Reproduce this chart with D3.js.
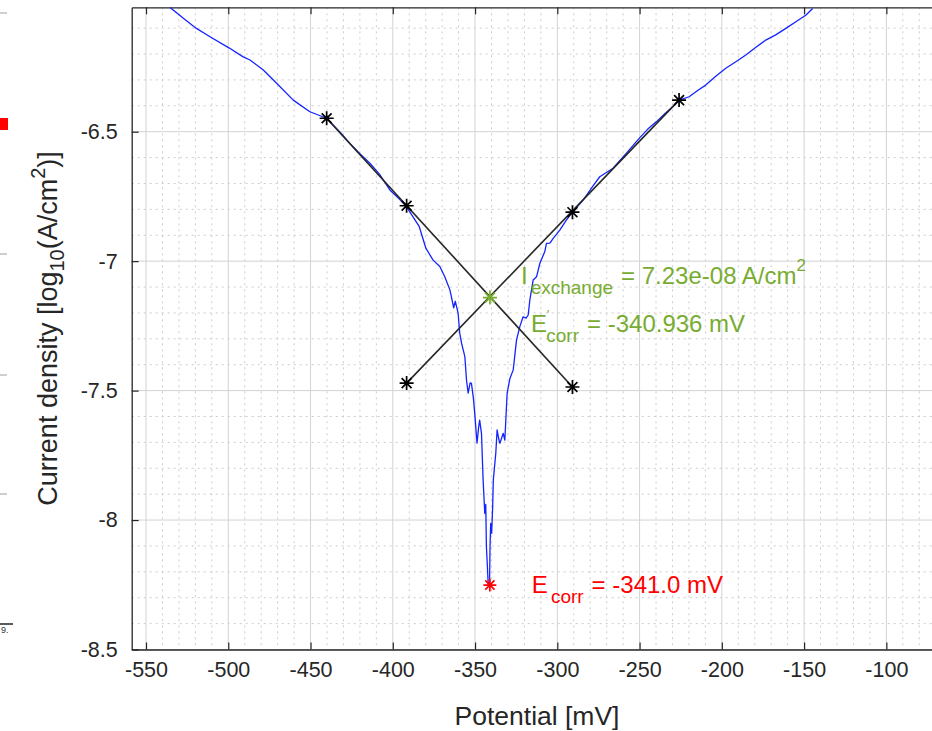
<!DOCTYPE html>
<html>
<head>
<meta charset="utf-8">
<script src="https://d3js.org/d3.v7.min.js"></script>
<style>
  body { margin: 0; background: #fff; overflow: hidden; }
  svg text { font-family: "Liberation Sans", Arial, Helvetica, sans-serif; }
</style>
</head>
<body>
<script>
// polarisation sweep
const potential = [
  -535.4, -527.3, -519.6, -511.1, -499.6, -491.2, -486.8, -478.7, -470.6, -460.5,
  -450.4, -440.2, -431.5, -426.1, -420.0, -413.9, -408.0, -401.8, -396.0, -391.6,
  -383.9, -379.9, -375.5, -371.4, -368.4, -365.3, -364.3, -363.0, -362.0, -360.3,
  -359.3, -358.2, -357.2, -356.2, -355.2, -354.2, -353.0, -352.2, -351.0, -350.2,
  -348.8, -347.8, -347.2, -346.1, -345.1, -344.1, -343.5, -343.1, -342.5, -342.0,
  -341.2, -340.9, -340.5, -339.9, -339.3, -338.9, -337.4, -336.6, -335.5, -334.9,
  -332.9, -331.9, -330.5, -328.8, -326.8, -324.8, -322.8, -320.8, -319.0, -317.7,
  -316.7, -314.7, -312.6, -310.6, -307.6, -306.6, -304.5, -302.5, -298.5, -294.4,
  -291.4, -284.3, -278.6, -274.2, -266.1, -258.0, -250.1, -245.0, -239.7, -234.5,
  -229.7, -226.0, -219.9, -214.5, -209.8, -203.5, -197.6, -191.5, -185.4, -179.5,
  -173.3, -167.0, -161.1, -155.0, -149.0, -144.8
];
const logCurrent = [
  -6.020, -6.062, -6.100, -6.133, -6.176, -6.210, -6.223, -6.262, -6.313, -6.378,
  -6.423, -6.448, -6.506, -6.545, -6.585, -6.622, -6.665, -6.725, -6.760, -6.790,
  -6.867, -6.950, -6.996, -7.021, -7.060, -7.111, -7.140, -7.180, -7.155, -7.201,
  -7.279, -7.317, -7.343, -7.369, -7.459, -7.510, -7.470, -7.472, -7.530, -7.588,
  -7.703, -7.640, -7.614, -7.665, -7.845, -7.974, -7.940, -8.103, -8.180, -8.251,
  -8.240, -8.103, -8.013, -8.051, -7.950, -7.845, -7.742, -7.652, -7.690, -7.704,
  -7.665, -7.691, -7.510, -7.453, -7.420, -7.305, -7.253, -7.215, -7.220, -7.208,
  -7.150, -7.073, -7.060, -7.008, -6.963, -6.931, -6.930, -6.912, -6.880, -6.841,
  -6.815, -6.764, -6.712, -6.674, -6.641, -6.583, -6.525, -6.490, -6.461, -6.430,
  -6.403, -6.378, -6.365, -6.340, -6.320, -6.285, -6.255, -6.230, -6.204, -6.175,
  -6.146, -6.125, -6.101, -6.075, -6.050, -6.024
];

// Tafel fits (start, fit limit, end)
const cathodicX = [-440.2, -391.6, -290.8];
const cathodicY = [-6.448, -6.786, -7.486];
const anodicX = [-391.6, -290.8, -226.0];
const anodicY = [-7.471, -6.811, -6.378];

const eCorr = -341.0;
const eCorrLog = -8.251;
const eCorrFit = -340.936;
const iExchange = 7.23e-8;

const xTicks = [-550, -500, -450, -400, -350, -300, -250, -200, -150, -100];
const yTicks = [-8.5, -8, -7.5, -7, -6.5];

((g) => {

  const xMinor = d3.range(-550, -60, 10);
  const yMinor = d3.range(-8.5, -6.0, 0.1);

  const W = 932, H = 731;
  const pl = 131.7, pr = 942.3, pt = 7.3, pb = 649.5;

  const svg = d3.select("body").append("svg")
    .attr("width", W).attr("height", H);

  const x = d3.scaleLinear().domain([-558.7, -66]).range([pl, pr]);
  const y = d3.scaleLinear().domain([-8.5, -6.0195]).range([pb, pt]);

  svg.append("clipPath").attr("id", "plotclip")
    .append("rect").attr("x", pl).attr("y", pt)
    .attr("width", pr - pl).attr("height", pb - pt);

  //grid
  const grid = svg.append("g");
  grid.selectAll(".mx").data(xMinor.filter(v => xTicks.indexOf(v) < 0)).join("line")
    .attr("class", "mx")
    .attr("x1", d => x(d)).attr("x2", d => x(d)).attr("y1", pt).attr("y2", pb)
    .attr("stroke", "#cccccc").attr("stroke-dasharray", "2,4").attr("stroke-width", 1);
  grid.selectAll(".my").data(yMinor.filter(v => Math.abs(v * 2 - Math.round(v * 2)) > 0.01)).join("line")
    .attr("class", "my")
    .attr("x1", pl).attr("x2", pr).attr("y1", d => y(d)).attr("y2", d => y(d))
    .attr("stroke", "#cccccc").attr("stroke-dasharray", "2,4").attr("stroke-width", 1);
  grid.selectAll(".gx").data(xTicks).join("line")
    .attr("class", "gx")
    .attr("x1", d => x(d)).attr("x2", d => x(d)).attr("y1", pt).attr("y2", pb)
    .attr("stroke", "#d3d3d3").attr("stroke-width", 1);
  grid.selectAll(".gy").data(yTicks).join("line")
    .attr("class", "gy")
    .attr("x1", pl).attr("x2", pr).attr("y1", d => y(d)).attr("y2", d => y(d))
    .attr("stroke", "#d3d3d3").attr("stroke-width", 1);

  //axes
  const xAxis = d3.axisBottom(x).tickValues(xTicks).tickSizeInner(-7).tickSizeOuter(0).tickPadding(12);
  const yAxis = d3.axisLeft(y).tickValues(yTicks).tickSizeInner(-7).tickSizeOuter(0).tickPadding(14)
    .tickFormat(d3.format("~g"));

  const gx = svg.append("g").attr("transform", "translate(0," + pb + ")").call(xAxis);
  const gy = svg.append("g").attr("transform", "translate(" + pl + ",0)").call(yAxis);
  const gxTop = svg.append("g").attr("transform", "translate(0," + pt + ")")
    .call(d3.axisTop(x).tickValues(xTicks).tickSizeInner(-7).tickSizeOuter(0).tickFormat(""));

  [gx, gy, gxTop].forEach(a => {
    a.select(".domain").attr("stroke", "#262626").attr("stroke-width", 1.3);
    a.selectAll(".tick line").attr("stroke", "#262626").attr("stroke-width", 1.2);
    a.selectAll(".tick text").attr("fill", "#262626").style("font-size", "21.5px")
      .style("font-family", "'Liberation Sans', Arial, sans-serif");
  });
  // plain hyphen minus like the original
  gx.selectAll(".tick text").text(d => String(d));
  gy.selectAll(".tick text").text(d => String(d));

  svg.append("text")
    .attr("x", 537).attr("y", 725)
    .attr("text-anchor", "middle").attr("fill", "#262626")
    .style("font-size", "26.5px")
    .text("Potential [mV]");

  const yl = svg.append("text")
    .attr("transform", "translate(57," + ((pt + pb) / 2) + ") rotate(-90)")
    .attr("text-anchor", "middle").attr("fill", "#262626")
    .style("font-size", "27px");
  yl.append("tspan").text("Current density [log");
  yl.append("tspan").attr("dy", 7).style("font-size", "20px").text("10");
  yl.append("tspan").attr("dy", -7).text("(A/cm");
  yl.append("tspan").attr("dy", -12).style("font-size", "20px").text("2");
  yl.append("tspan").attr("dy", 12).text(")]");

  //data
  const plot = svg.append("g").attr("clip-path", "url(#plotclip)");

  plot.append("path")
    .datum(d3.range(potential.length))
    .attr("fill", "none")
    .attr("stroke", "#1424ff")
    .attr("stroke-width", 1.3)
    .attr("stroke-linejoin", "round")
    .attr("d", d3.line().x(i => x(potential[i])).y(i => y(logCurrent[i])));

  const tafelLine = d3.line().x(d => x(d[0])).y(d => y(d[1]));
  [[cathodicX, cathodicY], [anodicX, anodicY]].forEach(f => {
    const pts = f[0].map((v, i) => [v, f[1][i]]);
    plot.append("path")
      .datum([pts[0], pts[pts.length - 1]])
      .attr("fill", "none").attr("stroke", "#262626").attr("stroke-width", 1.6)
      .attr("d", tafelLine);
  });

  // matlab style '*' marker
  const star = (px, py, r) => {
    let s = "";
    for (let k = 0; k < 4; k++) {
      const a = k * Math.PI / 4;
      const dx = r * Math.cos(a), dy = r * Math.sin(a);
      s += "M" + (px - dx) + "," + (py - dy) + "L" + (px + dx) + "," + (py + dy);
    }
    return s;
  };

  const blackStars = cathodicX.map((v, i) => [v, cathodicY[i]])
    .concat(anodicX.map((v, i) => [v, anodicY[i]]));
  plot.selectAll(".bs").data(blackStars).join("path")
    .attr("class", "bs")
    .attr("d", d => star(x(d[0]), y(d[1]), 7))
    .attr("stroke", "#000").attr("stroke-width", 1.7).attr("fill", "none");

  const green = "#77ac30";
  const fitPt = [eCorrFit, Math.log10(iExchange)];
  plot.append("path")
    .attr("d", star(x(fitPt[0]), y(fitPt[1]), 7))
    .attr("stroke", green).attr("stroke-width", 1.7).attr("fill", "none");

  plot.append("path")
    .attr("d", star(x(eCorr), y(eCorrLog), 6.5))
    .attr("stroke", "#ff0000").attr("stroke-width", 1.7).attr("fill", "none");

  //annotations
  const label = (px, py, color, main, sub, rest, sup) => {
    const t = svg.append("text").attr("x", px).attr("y", py).attr("fill", color)
      .style("font-size", "24px");
    if (main.indexOf("'") > 0) {
      t.append("tspan").text("E");
      t.append("tspan").attr("dy", -13).style("font-size", "12px").text("'");
      t.append("tspan").attr("dx", -3).attr("dy", 23).style("font-size", "19px").text(sub);
    } else {
      t.append("tspan").text(main);
      t.append("tspan").attr("dx", 3).attr("dy", 10).style("font-size", "19px").text(sub);
    }
    t.append("tspan").attr("dx", 8).attr("dy", -10).text(rest);
    if (sup) t.append("tspan").attr("dy", -13).style("font-size", "17px").text(sup);
  };

  label(x(fitPt[0]) + 31, y(fitPt[1]) - 14, green, "I", "exchange",
    "= " + d3.format(".2e")(iExchange).replace("e-8", "e-08") + " A/cm", "2");
  label(x(fitPt[0]) + 41, y(fitPt[1]) + 34, green, "E'", "corr",
    "= " + eCorrFit.toFixed(3) + " mV");
  label(x(eCorr) + 42, y(eCorrLog) + 8, "#ff0000", "E", "corr",
    "= " + eCorr.toFixed(1) + " mV");

  // cropped edge of the neighbouring figure
  const edge = svg.append("g");
  [13, 254, 375, 494].forEach(v => {
    edge.append("line").attr("x1", 0).attr("x2", 7).attr("y1", v).attr("y2", v)
      .attr("stroke", "#b0b0b0").attr("stroke-width", 1.2);
  });
  edge.append("line").attr("x1", 0).attr("x2", 13).attr("y1", 624).attr("y2", 624)
    .attr("stroke", "#222").attr("stroke-width", 1.5);
  edge.append("rect").attr("x", 0).attr("y", 118).attr("width", 8).attr("height", 12)
    .attr("fill", "#ff0000");
  edge.append("text").attr("x", 1).attr("y", 633).attr("fill", "#333")
    .style("font-size", "9px").text("9.");

})(this);
</script>
</body>
</html>
